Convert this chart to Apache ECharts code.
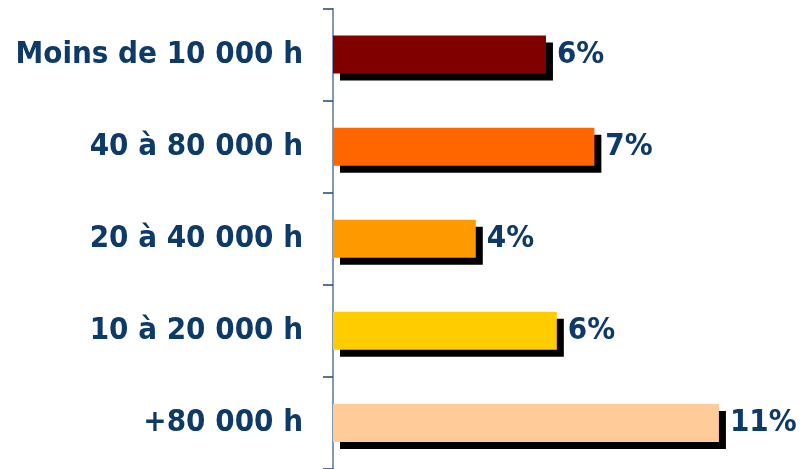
<!DOCTYPE html>
<html>
<head>
<meta charset="utf-8">
<script src="https://cdn.jsdelivr.net/npm/echarts@6/dist/echarts.min.js"></script>
<style>html,body{margin:0;padding:0;background:#fff}#c{width:809px;height:469px}</style>
</head>
<body>
<div id="c"></div>
<script>
const categories = ["Moins de 10 000 h", "40 à 80 000 h", "20 à 40 000 h", "10 à 20 000 h", "+80 000 h"];
const values = [6.07, 7.45, 4.07, 6.38, 11.0];
const valueLabels = ["6%", "7%", "4%", "6%", "11%"];
const barColors = ["#800000", "#FF6600", "#FF9900", "#FFCC00", "#FFCC99"];

const chart = echarts.init(document.getElementById('c'));
const textColor = "#0D3A68";
const font = "DejaVu Sans Condensed";
chart.setOption({
  animation: false,
  grid: { left: 333, top: 8.5, width: 421, height: 463.5, containLabel: false },
  xAxis: { type: 'value', min: 0, max: 12, show: false },
  yAxis: {
    type: 'category', inverse: true, data: categories,
    axisLine: { show: true, lineStyle: { color: '#5A769A', width: 1.5 } },
    axisTick: { show: true, length: 10, lineStyle: { color: '#1F4A78', width: 1.5 } },
    axisLabel: { margin: 30, color: textColor, fontFamily: font, fontWeight: 'bold', fontSize: 31 }
  },
  series: [{
    type: 'bar', barWidth: 38,
    data: values.map((v, i) => ({ value: v, itemStyle: { color: barColors[i] } })),
    itemStyle: { shadowColor: '#000', shadowBlur: 0, shadowOffsetX: 7, shadowOffsetY: 7 },
    label: {
      show: true, position: 'right', distance: 11,
      formatter: p => valueLabels[p.dataIndex],
      color: textColor, fontFamily: font, fontWeight: 'bold', fontSize: 31
    }
  }]
});
</script>
</body>
</html>
